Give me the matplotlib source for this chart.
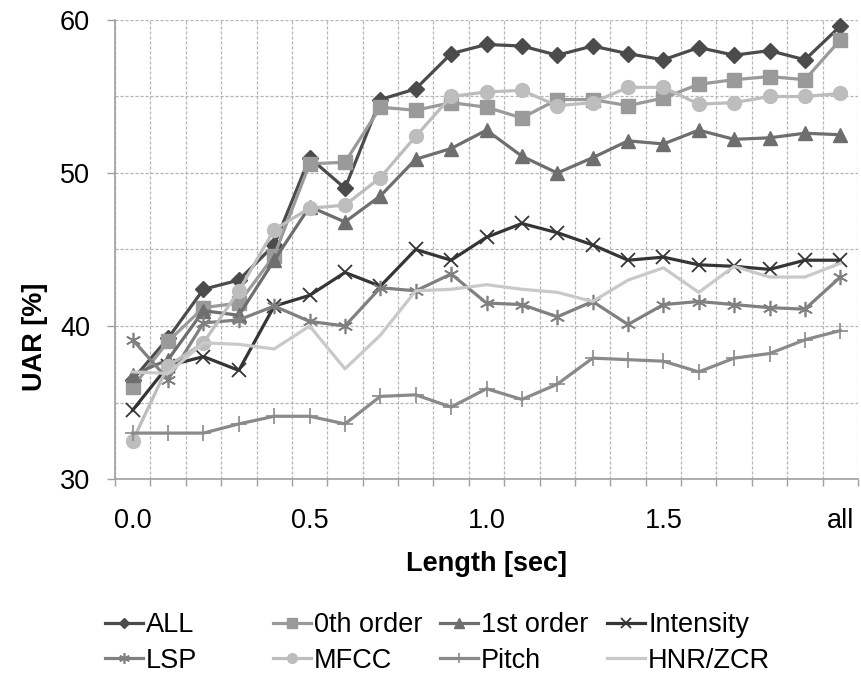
import numpy as np
import matplotlib
matplotlib.use("Agg")
import matplotlib.pyplot as plt
from matplotlib.ticker import FixedLocator, NullFormatter, FixedFormatter

plt.rcParams['font.family'] = ['Liberation Sans', 'DejaVu Sans']

# Segment lengths (categories) and tick labels
categories = ['0.0', '0.1', '0.2', '0.3', '0.4', '0.5', '0.6', '0.7', '0.8', '0.9',
              '1.0', '1.1', '1.2', '1.3', '1.4', '1.5', '1.6', '1.7', '1.8', '1.9', 'all']
tick_labels = ['0.0', '0.5', '1.0', '1.5', 'all']
tick_positions = [0, 5, 10, 15, 20]

# UAR [%] per feature set
uar_all = [36.5, 39.2, 42.4, 43.0, 45.3, 51.0, 49.0, 54.8, 55.5, 57.8, 58.4,
           58.3, 57.7, 58.3, 57.8, 57.4, 58.2, 57.7, 58.0, 57.4, 59.6]
uar_0th = [36.0, 39.0, 41.2, 41.5, 44.6, 50.6, 50.7, 54.3, 54.1, 54.6, 54.3,
           53.6, 54.8, 54.8, 54.4, 54.9, 55.8, 56.1, 56.3, 56.1, 58.7]
uar_1st = [36.8, 37.8, 41.0, 40.7, 44.3, 47.8, 46.8, 48.5, 50.9, 51.6, 52.8,
           51.1, 50.0, 51.0, 52.1, 51.9, 52.8, 52.2, 52.3, 52.6, 52.5]
uar_intensity = [34.5, 37.4, 38.0, 37.1, 41.3, 42.0, 43.5, 42.6, 45.0, 44.3, 45.8,
                 46.7, 46.1, 45.3, 44.3, 44.5, 44.0, 43.9, 43.7, 44.3, 44.3]
uar_lsp = [39.1, 36.5, 40.2, 40.4, 41.3, 40.3, 40.0, 42.5, 42.3, 43.4, 41.5,
           41.4, 40.6, 41.6, 40.1, 41.4, 41.6, 41.4, 41.2, 41.1, 43.2]
uar_mfcc = [32.5, 37.4, 38.9, 42.3, 46.3, 47.7, 47.9, 49.7, 52.4, 55.0, 55.3,
            55.4, 54.4, 54.6, 55.6, 55.6, 54.5, 54.6, 55.0, 55.0, 55.2]
uar_pitch = [33.0, 33.0, 33.0, 33.6, 34.1, 34.1, 33.6, 35.4, 35.5, 34.7, 35.9,
             35.2, 36.2, 37.9, 37.8, 37.7, 37.0, 37.9, 38.2, 39.1, 39.7]
uar_hnr = [37.0, 36.9, 38.9, 38.8, 38.5, 40.0, 37.2, 39.4, 42.3, 42.4, 42.7,
           42.4, 42.2, 41.6, 43.0, 43.8, 42.2, 43.9, 43.2, 43.2, 44.1]

series = [
    ('ALL',       uar_all,       dict(color='#4b4b4b', marker='D', ms=8)),
    ('0th order', uar_0th,       dict(color='#9a9a9a', marker='s', ms=9.5)),
    ('1st order', uar_1st,       dict(color='#6e6e6e', marker='^', ms=10)),
    ('Intensity', uar_intensity, dict(color='#353535', marker='x', ms=10, mew=1.3)),
    ('LSP',       uar_lsp,       dict(color='#808080', marker=(6, 2, 0), ms=11, mew=1.2)),
    ('MFCC',      uar_mfcc,      dict(color='#bdbdbd', marker='o', ms=10)),
    ('Pitch',     uar_pitch,     dict(color='#8a8a8a', marker='+', ms=11, mew=1.2)),
    ('HNR/ZCR',   uar_hnr,       dict(color='#c9c9c9', marker=None)),
]

FS = 19.5
fig = plt.figure(figsize=(8.61, 6.74), dpi=100)
ax = fig.add_axes([115 / 861, 1 - 479 / 674, (858 - 115) / 861, (479 - 20) / 674])

x = np.arange(len(categories))
handles = {}
for name, vals, st in series:
    line, = ax.plot(x, vals, lw=2.3, label=name, clip_on=False, **st)
    handles[name] = line

ax.set_xlim(-0.5, len(categories) - 0.5)
ax.set_ylim(30, 60)

# category boundaries carry the tick marks and vertical gridlines
ax.xaxis.set_major_locator(FixedLocator(np.arange(-0.5, len(categories), 1.0)))
ax.xaxis.set_major_formatter(NullFormatter())
ax.xaxis.set_minor_locator(FixedLocator(tick_positions))
ax.xaxis.set_minor_formatter(FixedFormatter(tick_labels))
ax.tick_params(axis='x', which='major', length=5, width=1, color='#a0a0a0', direction='out')
ax.tick_params(axis='x', which='minor', length=0, pad=21, labelsize=FS)

ax.yaxis.set_major_locator(FixedLocator([30, 40, 50, 60]))
ax.yaxis.set_minor_locator(FixedLocator([35, 45, 55]))
ax.tick_params(axis='y', which='major', length=6, width=1, color='#a0a0a0',
               direction='out', pad=12, labelsize=FS)
ax.tick_params(axis='y', which='minor', length=0)

ax.grid(True, which='major', axis='x', color='#b5b5b5', lw=0.9, ls=(0, (2.5, 1.5)))
ax.grid(True, which='both', axis='y', color='#b5b5b5', lw=0.9, ls=(0, (2.5, 1.5)))
ax.set_axisbelow(True)

for side in ('top', 'right'):
    ax.spines[side].set_visible(False)
for side in ('left', 'bottom'):
    ax.spines[side].set_color('#a0a0a0')
    ax.spines[side].set_linewidth(1.2)

ax.set_xlabel('Length [sec]', fontsize=FS, fontweight='bold', labelpad=12)
ax.set_ylabel('UAR [%]', fontsize=FS, fontweight='bold')
ax.yaxis.set_label_coords(48 / 861, 0.5, transform=fig.transFigure)

# legend: four fixed-position columns, two rows each
columns = [('ALL', 'LSP'), ('0th order', 'MFCC'), ('1st order', 'Pitch'), ('Intensity', 'HNR/ZCR')]
col_x = [105, 273, 440, 607]
for names, cx in zip(columns, col_x):
    leg = fig.legend([handles[n] for n in names], list(names),
                     loc='center left', bbox_to_anchor=(cx / 861, 1 - 643 / 674),
                     frameon=False, fontsize=FS, borderpad=0, borderaxespad=0,
                     handlelength=1.4, handletextpad=0.12, labelspacing=0.35,
                     markerscale=0.7)

fig.savefig('out.png', dpi=100)
